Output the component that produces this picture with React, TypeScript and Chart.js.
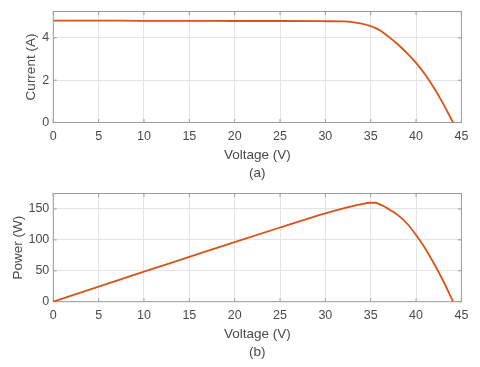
import React, { useEffect, useRef } from "react";
import { Chart, registerables } from "chart.js";
Chart.register(...registerables);

// ---- Data ----
const voltageIV = [0, 5, 10, 15, 20, 25, 30, 32, 33, 34, 35, 35.5, 36, 36.5, 37, 38, 39, 40, 41, 42, 43, 44, 44.09];
const currentIV = [4.82, 4.82, 4.81, 4.81, 4.8, 4.8, 4.79, 4.78, 4.75, 4.68, 4.56, 4.475, 4.36, 4.21, 4.05, 3.69, 3.28, 2.82, 2.27, 1.62, 0.88, 0.07, 0];

const voltagePV = [0, 5, 10, 15, 20, 25, 30, 32, 33, 34, 35, 35.5, 36, 36.5, 37, 38, 39, 40, 41, 42, 43, 44, 44.08];
const powerPV = [0, 24.3, 48.5, 72.5, 96.5, 120, 143, 151, 154.5, 158, 160, 160, 157.5, 154, 149.5, 140, 126.5, 108, 86.5, 61, 33.5, 2.5, 0];

const voltageTicks = [0, 5, 10, 15, 20, 25, 30, 35, 40, 45];
const currentTicks = [0, 2, 4];
const powerTicks = [0, 50, 100, 150];

const LINE_COLOR = "#D95319";
const TEXT_COLOR = "#4a4a4a";
const GRID_COLOR = "#e4e4e4";
const FRAME_COLOR = "#9c9c9c";
const FONT = "'Liberation Sans', Arial, sans-serif";

const framePlugin = {
  id: "matlabFrame",
  beforeDatasetsDraw(chart: any) {
    const { ctx, chartArea: a, scales } = chart;
    ctx.save();
    ctx.strokeStyle = FRAME_COLOR;
    ctx.lineWidth = 1;
    ctx.strokeRect(a.left, a.top, a.right - a.left, a.bottom - a.top);
    const tl = 3.5;
    ctx.beginPath();
    for (const t of scales.x.ticks) {
      const px = scales.x.getPixelForValue(t.value);
      ctx.moveTo(px, a.bottom);
      ctx.lineTo(px, a.bottom - tl);
      ctx.moveTo(px, a.top);
      ctx.lineTo(px, a.top + tl);
    }
    for (const t of scales.y.ticks) {
      const py = scales.y.getPixelForValue(t.value);
      ctx.moveTo(a.left, py);
      ctx.lineTo(a.left + tl, py);
      ctx.moveTo(a.right, py);
      ctx.lineTo(a.right - tl, py);
    }
    ctx.stroke();
    ctx.restore();
  },
};

type PanelProps = {
  xs: number[];
  ys: number[];
  yMax: number;
  yTicks: number[];
  yLabel: string;
  yTitlePad: number;
  sub: string;
  height: number;
  areaTop: number;
  areaBottom: number;
  padBottom: number;
};

function Panel(p: PanelProps) {
  const ref = useRef<HTMLCanvasElement | null>(null);
  useEffect(() => {
    if (!ref.current) return;
    const data = p.xs.map((x, i) => ({ x, y: p.ys[i] }));
    const chart = new Chart(ref.current, {
      type: "line",
      data: {
        datasets: [
          {
            data,
            borderColor: LINE_COLOR,
            borderWidth: 1.8,
            pointRadius: 0,
            fill: false,
            cubicInterpolationMode: "monotone",
          },
        ],
      },
      options: {
        animation: false,
        responsive: false,
        devicePixelRatio: 1,
        layout: { padding: { top: p.areaTop, right: 18.6, left: 0, bottom: p.padBottom } },
        plugins: { legend: { display: false }, tooltip: { enabled: false } },
        scales: {
          x: {
            type: "linear",
            min: 0,
            max: 45,
            afterFit: (s: any) => {
              s.height = p.height - p.padBottom - p.areaBottom;
            },
            afterBuildTicks: (s: any) => {
              s.ticks = voltageTicks.map((v) => ({ value: v }));
            },
            grid: { color: GRID_COLOR, drawTicks: false },
            border: { display: false },
            ticks: {
              color: TEXT_COLOR,
              padding: 6.7,
              font: { family: FONT, size: 12.5 },
              maxRotation: 0,
              autoSkip: false,
            },
            title: {
              display: true,
              text: ["Voltage (V)", p.sub],
              color: TEXT_COLOR,
              font: { family: FONT, size: 13.5, lineHeight: 18 / 13.5 },
              padding: { top: 0, bottom: 0 },
            },
          },
          y: {
            type: "linear",
            min: 0,
            max: p.yMax,
            afterFit: (s: any) => {
              s.width = 53.3;
            },
            afterBuildTicks: (s: any) => {
              s.ticks = p.yTicks.map((v) => ({ value: v }));
            },
            grid: { color: GRID_COLOR, drawTicks: false },
            border: { display: false },
            ticks: {
              color: TEXT_COLOR,
              padding: 4,
              font: { family: FONT, size: 12.5 },
              includeBounds: false,
            },
            title: {
              display: true,
              text: p.yLabel,
              color: TEXT_COLOR,
              font: { family: FONT, size: 13.5, lineHeight: 1.2 },
              padding: { top: p.yTitlePad, bottom: 0 },
            },
          },
        },
      } as any,
      plugins: [framePlugin],
    });
    return () => chart.destroy();
  }, []);
  return <canvas ref={ref} width={480} height={p.height} style={{ display: "block", width: 480, height: p.height }} />;
}

export default function App() {
  return (
    <div style={{ position: "absolute", left: 0, top: 0, width: 480, height: 367, background: "#fff" }}>
      <Panel
        xs={voltageIV}
        ys={currentIV}
        yMax={5.25}
        yTicks={currentTicks}
        yLabel="Current (A)"
        yTitlePad={23.6}
        sub="(a)"
        height={182}
        areaTop={10}
        areaBottom={122.5}
        padBottom={0}
      />
      <Panel
        xs={voltagePV}
        ys={powerPV}
        yMax={175}
        yTicks={powerTicks}
        yLabel="Power (W)"
        yTitlePad={10.2}
        sub="(b)"
        height={185}
        areaTop={5.3}
        areaBottom={119.7}
        padBottom={6}
      />
    </div>
  );
}
